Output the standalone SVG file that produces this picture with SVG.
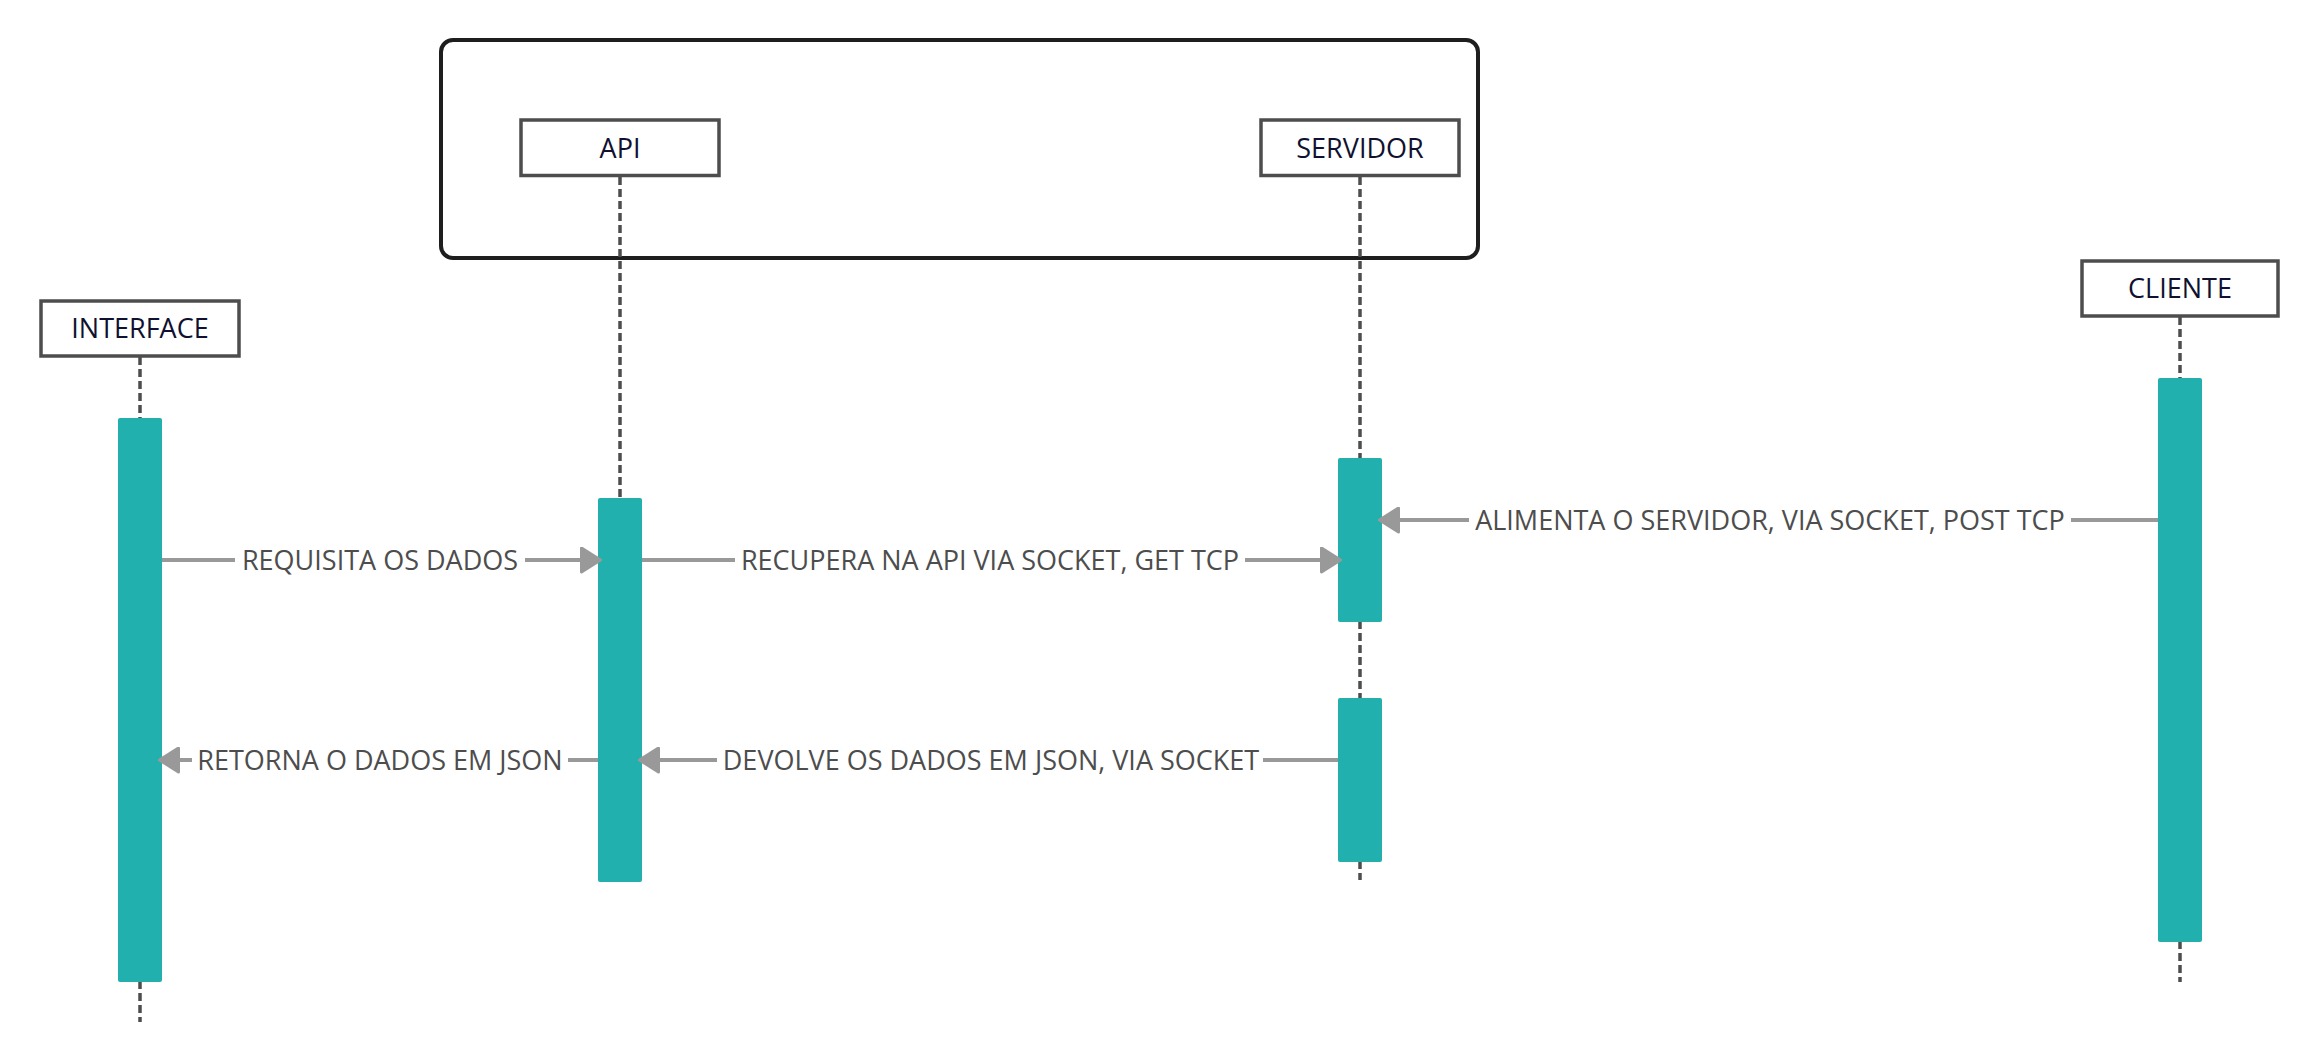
<svg xmlns="http://www.w3.org/2000/svg" width="2320" height="1060" viewBox="0 0 2320 1060">
<style>
.bg{fill:#ffffff}
.group{fill:none;stroke:#1e1e1e;stroke-width:4}
.head{fill:#ffffff;stroke:#4d4d4d;stroke-width:3.5}
.hlabel{font-family:"Open Sans","Noto Sans","DejaVu Sans",sans-serif;font-size:27px;fill:#101030;text-anchor:middle}
.life{stroke:#4d4d4d;stroke-width:3.5;stroke-dasharray:8 4;fill:none}
.bar{fill:#22b0af}
.msg{stroke:#999999;stroke-width:4;fill:none}
.mlabel{font-family:"Open Sans","Noto Sans","DejaVu Sans",sans-serif;font-size:27px;fill:#4d4d4d;text-anchor:middle}
</style>
<defs>
<marker id="arr" markerUnits="userSpaceOnUse" viewBox="0 0 22 27" markerWidth="22" markerHeight="27" refX="0" refY="13.5" orient="auto">
<path d="M1.5,1.5 L20.5,13.5 L1.5,25.5 Z" fill="#999999" stroke="#999999" stroke-width="3" stroke-linejoin="round"/>
</marker>
</defs>
<rect class="bg" x="0" y="0" width="2320" height="1060"/>
<g id="group-box">
<rect class="group" x="441" y="40" width="1037" height="218" rx="12" ry="12"/>
</g>
<g id="lifelines">
<line class="life" x1="140" y1="357" x2="140" y2="1022"/>
<line class="life" x1="620" y1="177" x2="620" y2="882"/>
<line class="life" x1="1360" y1="177" x2="1360" y2="880"/>
<line class="life" x1="2180" y1="317" x2="2180" y2="982"/>
</g>
<g id="node-interface">
<rect class="head" x="41" y="301" width="198" height="55"/>
<text class="hlabel" x="140" y="338">INTERFACE</text>
<rect class="bar" x="118" y="418" width="44" height="564" rx="2"/>
</g>
<g id="node-api">
<rect class="head" x="521" y="120" width="198" height="55.5"/>
<text class="hlabel" x="620" y="158">API</text>
<rect class="bar" x="598" y="498" width="44" height="384" rx="2"/>
</g>
<g id="node-servidor">
<rect class="head" x="1261" y="120" width="198" height="55.5"/>
<text class="hlabel" x="1360" y="158">SERVIDOR</text>
<rect class="bar" x="1338" y="458" width="44" height="164" rx="2"/>
<rect class="bar" x="1338" y="698" width="44" height="164" rx="2"/>
</g>
<g id="node-cliente">
<rect class="head" x="2082" y="261" width="196" height="55"/>
<text class="hlabel" x="2180" y="298">CLIENTE</text>
<rect class="bar" x="2158" y="378" width="44" height="564" rx="2"/>
</g>
<g id="connectors">
<g id="m1">
<line class="msg" x1="162" y1="560" x2="235" y2="560"/>
<line class="msg" x1="525" y1="560" x2="580" y2="560" marker-end="url(#arr)"/>
<text class="mlabel" x="380" y="570">REQUISITA OS DADOS</text>
</g>
<g id="m2">
<line class="msg" x1="642" y1="560" x2="735" y2="560"/>
<line class="msg" x1="1245" y1="560" x2="1320" y2="560" marker-end="url(#arr)"/>
<text class="mlabel" x="990" y="570">RECUPERA NA API VIA SOCKET, GET TCP</text>
</g>
<g id="m3">
<line class="msg" x1="2158" y1="520" x2="2071" y2="520"/>
<line class="msg" x1="1469" y1="520" x2="1400" y2="520" marker-end="url(#arr)"/>
<text class="mlabel" x="1770" y="530">ALIMENTA O SERVIDOR, VIA SOCKET, POST TCP</text>
</g>
<g id="m4">
<line class="msg" x1="1338" y1="760" x2="1263" y2="760"/>
<line class="msg" x1="717" y1="760" x2="660" y2="760" marker-end="url(#arr)"/>
<text class="mlabel" x="991" y="770">DEVOLVE OS DADOS EM JSON, VIA SOCKET</text>
</g>
<g id="m5">
<line class="msg" x1="598" y1="760" x2="568" y2="760"/>
<line class="msg" x1="192" y1="760" x2="180" y2="760" marker-end="url(#arr)"/>
<text class="mlabel" x="380" y="770">RETORNA O DADOS EM JSON</text>
</g>
</g>
</svg>
